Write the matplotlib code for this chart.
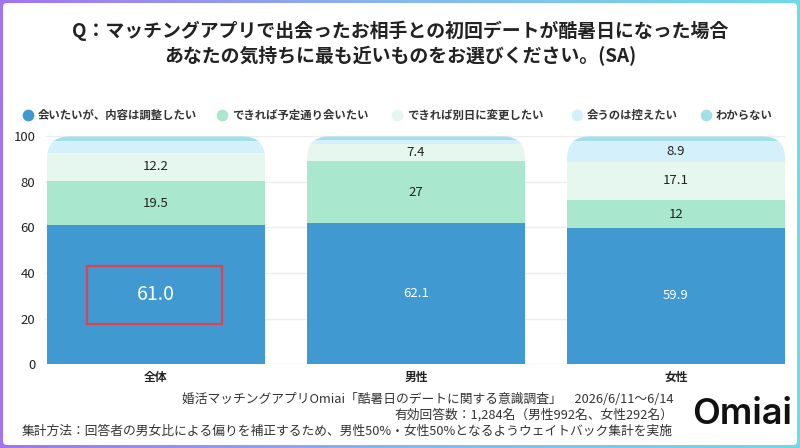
import matplotlib
matplotlib.use("Agg")
import matplotlib.pyplot as plt
import numpy as np
from matplotlib.patches import FancyBboxPatch, Rectangle
from matplotlib.colors import LinearSegmentedColormap

plt.rcParams['font.family'] = ['Noto Sans CJK JP', 'DejaVu Sans']

# データ
categorias = ["全体", "男性", "女性"]
respuestas = ["会いたいが、内容は調整したい", "できれば予定通り会いたい",
              "できれば別日に変更したい", "会うのは控えたい", "わからない"]
valores = {
    "会いたいが、内容は調整したい": [61.0, 62.1, 59.9],
    "できれば予定通り会いたい": [19.5, 27.0, 12.0],
    "できれば別日に変更したい": [12.2, 7.4, 17.1],
    "会うのは控えたい": [5.5, 1.8, 8.9],
    "わからない": [1.8, 1.7, 2.1],
}
etiquetas_valor = {
    "会いたいが、内容は調整したい": ["61.0", "62.1", "59.9"],
    "できれば予定通り会いたい": ["19.5", "27", "12"],
    "できれば別日に変更したい": ["12.2", "7.4", "17.1"],
    "会うのは控えたい": ["", "", "8.9"],
    "わからない": ["", "", ""],
}
colores = ["#4099d0", "#aae7cf", "#e6f7ef", "#d4f1fb", "#a3dfe8"]
yticks = [0, 20, 40, 60, 80, 100]

titulo = ("Q：マッチングアプリで出会ったお相手との初回デートが酷暑日になった場合\n"
          "あなたの気持ちに最も近いものをお選びください。(SA)")
pie = ["婚活マッチングアプリOmiai「酷暑日のデートに関する意識調査」　2026/6/11～6/14",
       "有効回答数：1,284名（男性992名、女性292名）",
       "集計方法：回答者の男女比による偏りを補正するため、男性50%・女性50%となるようウェイトバック集計を実施"]

W, H = 800, 448
fig = plt.figure(figsize=(8, 4.48), dpi=100)

# 背景（グラデーション枠）
bg = fig.add_axes([0, 0, 1, 1], zorder=0)
bg.set_xlim(0, W)
bg.set_ylim(H, 0)
bg.axis("off")
cmap = LinearSegmentedColormap.from_list("marco", ["#a374f0", "#86b8f0", "#6fdbe6"])
grad = np.linspace(0, 1, 256).reshape(1, -1)
bg.imshow(grad, cmap=cmap, extent=[0, W, H, 0], aspect="auto")
bg.add_patch(FancyBboxPatch((3, 3), W - 6, H - 6, boxstyle="round,pad=0,rounding_size=4",
                            facecolor="white", edgecolor="none"))
for ysep in [84, 385]:
    bg.imshow(grad, cmap=cmap, extent=[3, W - 3, ysep + 1, ysep - 1], aspect="auto")
bg.set_xlim(0, W)
bg.set_ylim(H, 0)

# タイトル
fig.text(0.5, 1 - 43 / H, titulo, ha="center", va="center", fontsize=13.6,
         fontweight="bold", color="#222222", linespacing=1.3)

# 凡例
leg_x = [28, 222, 397, 577, 706]
for x, lab, c in zip(leg_x, respuestas, colores):
    bg.scatter([x], [115], s=55, color=c, zorder=3)
    bg.text(x + 10, 115, lab, ha="left", va="center", fontsize=8.2,
            fontweight="bold", color="#333333")

# グラフ
centro = [156, 416, 676]
paso = 260
x_izq = (45 - centro[0]) / paso
x_der = (785 - centro[0]) / paso
ax = fig.add_axes([45 / W, 1 - 364 / H, 740 / W, (364 - 136.5) / H], zorder=1)
ax.set_facecolor("none")
ax.set_xlim(x_izq, x_der)
ax.set_ylim(0, 100)

x = np.arange(len(categorias))
ancho = 218 / paso
rx = 22 / paso
ry = 22 / 2.275
clips = []
for xi in x:
    p = FancyBboxPatch((xi - ancho / 2, -30), ancho, 130,
                       boxstyle=f"round,pad=0,rounding_size={rx}",
                       mutation_aspect=ry / rx, facecolor="none", edgecolor="none")
    ax.add_patch(p)
    clips.append(p)

base = np.zeros(len(categorias))
for resp, c in zip(respuestas, colores):
    vals = np.array(valores[resp])
    barras = ax.bar(x, vals, ancho, bottom=base, color=c, edgecolor="none", zorder=2)
    for b, clip in zip(barras, clips):
        b.set_clip_path(clip)
    for i, (v, t) in enumerate(zip(vals, etiquetas_valor[resp])):
        if t == "":
            continue
        yc = base[i] + v / 2
        if resp == respuestas[0]:
            if i == 0:
                ax.text(x[i], yc, t, ha="center", va="center", fontsize=14, color="white", zorder=4)
            else:
                ax.text(x[i], yc, t, ha="center", va="center", fontsize=9.5, color="white", zorder=4)
        else:
            ax.text(x[i], yc, t, ha="center", va="center", fontsize=9.5, color="#222222", zorder=4)
    base += vals

# 61.0 の赤枠
ax.add_patch(Rectangle((x[0] - 69 / paso, 61.0 / 2 - 29 / 2.275), 135 / paso, 58 / 2.275,
                       fill=False, edgecolor="#e0434f", linewidth=1.6, zorder=5))

ax.set_yticks(yticks)
ax.set_yticklabels([str(v) for v in yticks], fontsize=9.5, color="#222222")
ax.tick_params(axis="y", length=0, pad=7)
ax.set_xticks(x)
ax.set_xticklabels(categorias, fontsize=8.5, fontweight="bold", color="#222222")
ax.tick_params(axis="x", length=0, pad=5)
ax.grid(axis="y", color="#eeeeee", linewidth=1, zorder=0)
ax.set_axisbelow(True)
for s in ax.spines.values():
    s.set_visible(False)

# フッター
for yy, linea in zip([399, 415, 431], pie):
    fig.text(673 / W, 1 - yy / H, linea, ha="right", va="center", fontsize=9.2, color="#333333")
fig.text(742 / W, 1 - 414 / H, "Omiai", ha="center", va="center", fontsize=26,
         family=["Inter", "DejaVu Sans"], fontweight="semibold", color="#111111")

fig.savefig("out.png", dpi=100)
